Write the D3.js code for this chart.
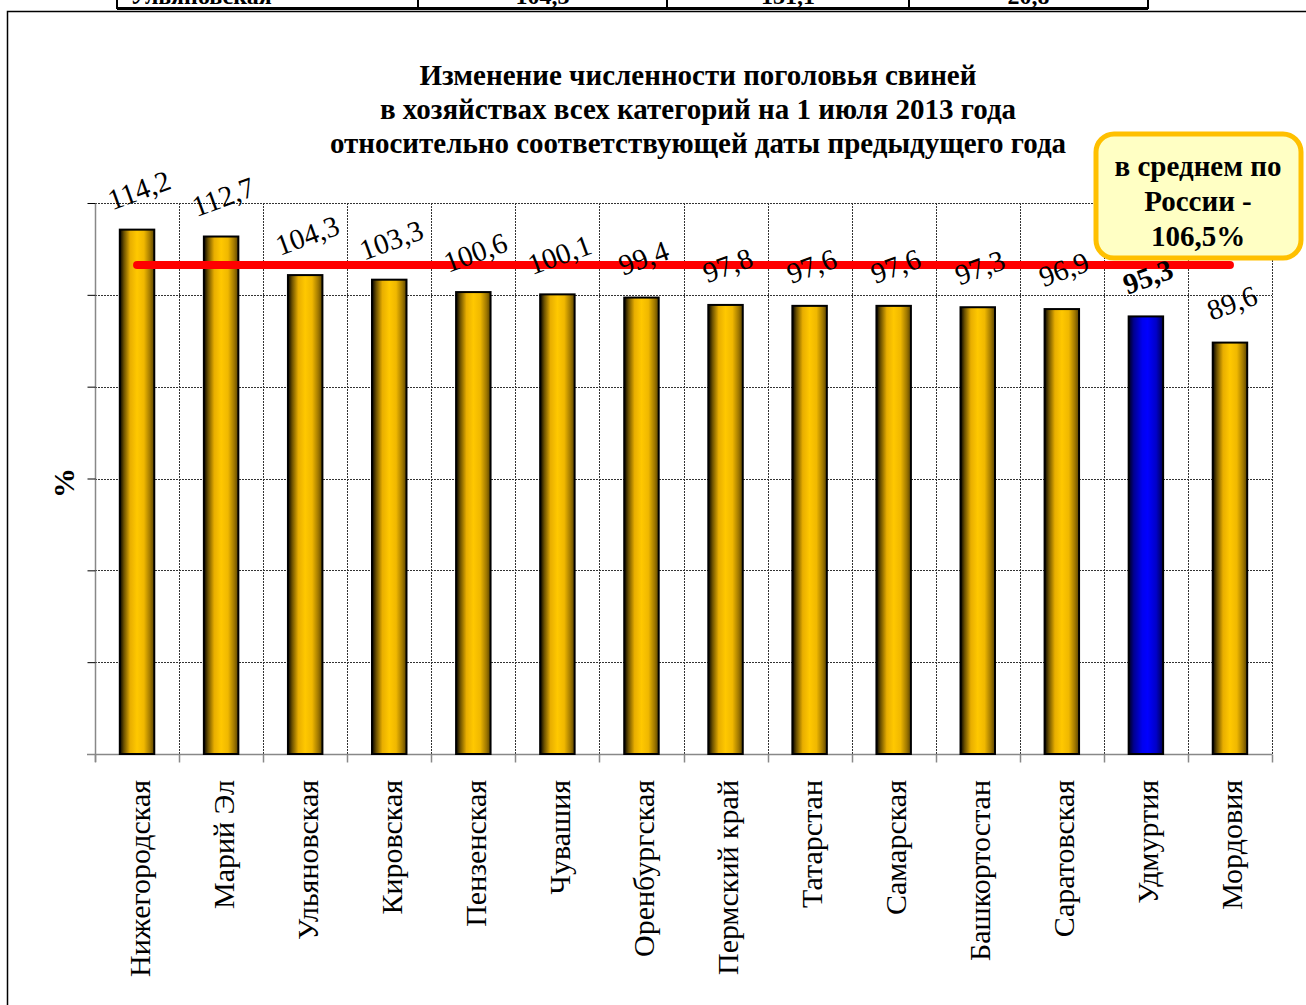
<!DOCTYPE html>
<html>
<head>
<meta charset="utf-8">
<script src="https://d3js.org/d3.v7.min.js"></script>
<style>
  body { margin: 0; background: #fff; }
  svg { display: block; font-family: "Liberation Serif", "Times New Roman", serif; }
</style>
</head>
<body>
<div id="chart"></div>
<script>
// data
var regions = ["Нижегородская", "Марий Эл", "Ульяновская", "Кировская", "Пензенская",
               "Чувашия", "Оренбургская", "Пермский край", "Татарстан", "Самарская",
               "Башкортостан", "Саратовская", "Удмуртия", "Мордовия"];
var values = [114.2, 112.7, 104.3, 103.3, 100.6, 100.1, 99.4, 97.8, 97.6, 97.6, 97.3, 96.9, 95.3, 89.6];
var highlight = "Удмуртия";
var russiaAvg = 106.5;
var yTicks = [0, 20, 40, 60, 80, 100, 120];
var titleLines = ["Изменение численности поголовья свиней",
                  "в хозяйствах всех категорий на 1 июля 2013 года",
                  "относительно соответствующей даты предыдущего года"];
var noteLines = ["в среднем по", "России -", "106,5%"];
// the last table row of the page above, mostly cut off
var tableRow = ["Ульяновская", "104,3", "131,1", "20,8"];

var width = 1306, height = 1005;
var plot = { left: 95, right: 1272, top: 203, bottom: 754 };

var svg = d3.select("#chart").append("svg")
    .attr("width", width)
    .attr("height", height);

// gradients for the bars
var defs = svg.append("defs");
function makeGradient(id, stops) {
    var g = defs.append("linearGradient").attr("id", id)
        .attr("x1", "0%").attr("x2", "100%").attr("y1", "0%").attr("y2", "0%");
    stops.forEach(function (s) {
        g.append("stop").attr("offset", s[0]).attr("stop-color", s[1]);
    });
}
makeGradient("gold", [["0%", "#000000"], ["12%", "#6b5000"], ["30%", "#e8ae00"],
                      ["50%", "#ffc800"], ["70%", "#f0b800"], ["88%", "#a07800"], ["100%", "#5a4300"]]);
makeGradient("blue", [["0%", "#000018"], ["15%", "#000090"], ["40%", "#0000f0"],
                      ["55%", "#0000ff"], ["80%", "#0000c8"], ["100%", "#000050"]]);

// page bits: table bottom and frame
var tableX = [117, 418, 667, 909, 1148];
svg.selectAll(".tcell").data(tableRow).enter().append("text")
    .attr("x", function (d, i) { return i == 0 ? 130 : (tableX[i] + tableX[i + 1]) / 2; })
    .attr("y", 4)
    .attr("text-anchor", function (d, i) { return i == 0 ? "start" : "middle"; })
    .style("font-size", "24px")
    .style("font-weight", "bold")
    .text(function (d) { return d; });
svg.append("line").attr("x1", tableX[0]).attr("x2", tableX[4]).attr("y1", 8.5).attr("y2", 8.5)
    .attr("stroke", "#000").attr("stroke-width", 3);
svg.selectAll(".tv").data(tableX).enter().append("line")
    .attr("x1", function (d) { return d; }).attr("x2", function (d) { return d; })
    .attr("y1", 0).attr("y2", 9)
    .attr("stroke", "#000").attr("stroke-width", 2);
svg.append("path")
    .attr("d", "M7.5,1005 L7.5,11.5 L1306,11.5")
    .attr("fill", "none").attr("stroke", "#000").attr("stroke-width", 1.5);

// scales
var x = d3.scaleBand().domain(regions).range([plot.left, plot.right]).paddingInner(0).paddingOuter(0);
var y = d3.scaleLinear().domain([0, 120]).range([plot.bottom, plot.top]);
var barW = x.bandwidth() * 0.41;

// gridlines
var grid = svg.append("g");
grid.selectAll(".hg").data(yTicks.slice(1)).enter().append("line")
    .attr("x1", plot.left).attr("x2", plot.right)
    .attr("y1", function (d) { return Math.round(y(d)) + 0.5; })
    .attr("y2", function (d) { return Math.round(y(d)) + 0.5; })
    .attr("stroke", "#333").attr("stroke-width", 1).attr("stroke-dasharray", "2,1");
var bounds = regions.map(function (r) { return x(r); }).concat([plot.right]);
grid.selectAll(".vg").data(bounds.slice(1)).enter().append("line")
    .attr("x1", function (d) { return Math.round(d) + 0.5; })
    .attr("x2", function (d) { return Math.round(d) + 0.5; })
    .attr("y1", plot.top).attr("y2", plot.bottom)
    .attr("stroke", "#333").attr("stroke-width", 1).attr("stroke-dasharray", "2,1");

// axes
var yAxis = svg.append("g")
    .attr("transform", "translate(" + (plot.left + 0.5) + ",0)")
    .call(d3.axisLeft(y).tickValues(yTicks).tickSize(8).tickFormat(""));
yAxis.select(".domain").attr("stroke", "#888").attr("stroke-width", 1.5)
    .attr("d", "M0," + plot.top + "V" + (plot.bottom + 8));
yAxis.selectAll(".tick line").attr("stroke", "#000");

var xAxis = svg.append("g").attr("transform", "translate(0," + (plot.bottom + 0.5) + ")");
xAxis.append("line").attr("x1", plot.left - 8).attr("x2", plot.right)
    .attr("stroke", "#888").attr("stroke-width", 1.5);
xAxis.selectAll(".xt").data(bounds).enter().append("line")
    .attr("x1", function (d) { return Math.round(d) + 0.5; })
    .attr("x2", function (d) { return Math.round(d) + 0.5; })
    .attr("y1", 0).attr("y2", 8)
    .attr("stroke", "#888").attr("stroke-width", 1.5);

// bars
svg.selectAll(".bar").data(regions).enter().append("rect")
    .attr("x", function (d) { return x(d) + (x.bandwidth() - barW) / 2; })
    .attr("y", function (d, i) { return y(values[i]); })
    .attr("width", barW)
    .attr("height", function (d, i) { return y(0) - y(values[i]); })
    .attr("fill", function (d) { return d == highlight ? "url(#blue)" : "url(#gold)"; })
    .attr("stroke", "#000").attr("stroke-width", 2);

// average line for Russia
var first = regions[0], last = regions[regions.length - 1];
svg.append("line")
    .attr("x1", x(first) + x.bandwidth() / 2)
    .attr("x2", x(last) + x.bandwidth() / 2)
    .attr("y1", y(russiaAvg)).attr("y2", y(russiaAvg))
    .attr("stroke", "#ff0000").attr("stroke-width", 8).attr("stroke-linecap", "round");

// value labels
svg.selectAll(".val").data(regions).enter().append("text")
    .attr("transform", function (d, i) {
        return "translate(" + (x(d) + x.bandwidth() / 2 + 2) + "," + (y(values[i]) - 40) + ") rotate(-20)";
    })
    .attr("text-anchor", "middle")
    .attr("dy", "0.35em")
    .style("font-size", "29px")
    .style("font-weight", function (d) { return d == highlight ? "bold" : "normal"; })
    .text(function (d, i) { return String(values[i]).replace(".", ","); });

// category labels
svg.selectAll(".cat").data(regions).enter().append("text")
    .attr("transform", function (d) {
        return "translate(" + (x(d) + x.bandwidth() / 2 + 2) + "," + (plot.bottom + 26) + ") rotate(-90)";
    })
    .attr("text-anchor", "end")
    .attr("dy", "0.35em")
    .style("font-size", "30px")
    .text(function (d) { return d; });

// y axis title
svg.append("text")
    .attr("transform", "translate(63,483) rotate(-90)")
    .attr("text-anchor", "middle")
    .attr("dy", "0.35em")
    .style("font-size", "30px")
    .style("font-weight", "bold")
    .text("%");

// chart title
svg.append("g").selectAll("text").data(titleLines).enter().append("text")
    .attr("x", 698)
    .attr("y", function (d, i) { return 85 + i * 34; })
    .attr("text-anchor", "middle")
    .style("font-size", "29px")
    .style("font-weight", "bold")
    .text(function (d) { return d; });

// note box
var note = svg.append("g");
note.append("rect")
    .attr("x", 1096).attr("y", 134).attr("width", 205).attr("height", 124)
    .attr("rx", 18).attr("ry", 18)
    .attr("fill", "#ffffc4").attr("stroke", "#ffc000").attr("stroke-width", 5);
note.selectAll("text").data(noteLines).enter().append("text")
    .attr("x", 1198)
    .attr("y", function (d, i) { return 176 + i * 35; })
    .attr("text-anchor", "middle")
    .style("font-size", "29px")
    .style("font-weight", "bold")
    .text(function (d) { return d; });
</script>
</body>
</html>
